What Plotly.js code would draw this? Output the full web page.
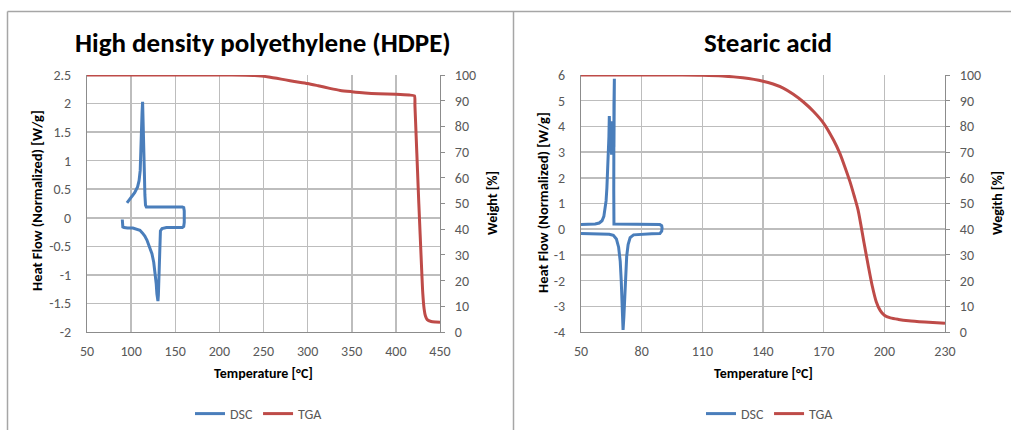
<!DOCTYPE html>
<html>
<head>
<meta charset="utf-8">
<script src="https://cdn.plot.ly/plotly-3.0.1.min.js"></script>
<style>
html,body{margin:0;padding:0;background:#fff;}
#chart{width:1011px;height:430px;}
</style>
</head>
<body>
<div id="chart"></div>
<script>
// ---------- HDPE data ----------
const hdpeDscT = [90, 90.1, 90.6, 92, 96, 102, 106.6, 110, 113, 115.5, 117.9, 120.8, 123.6, 125.6, 127.3, 128.4, 129.2, 129.9, 130.4, 130.9, 131.5, 131.9, 132.3, 133.2, 135, 140, 150, 158, 159.6, 160.2, 160.2, 159.6, 158, 150, 140, 130, 120, 117.2, 116.3, 115.6, 115.0, 114.4, 113.7, 113.0, 112.4, 111.9, 111.1, 110.3, 109.0, 107.3, 104.0, 101.0, 98.0, 95.3];
const hdpeDscQ = [-0.03, -0.12, -0.16, -0.17, -0.18, -0.18, -0.2, -0.22, -0.27, -0.32, -0.39, -0.5, -0.63, -0.78, -0.98, -1.15, -1.33, -1.42, -1.46, -1.35, -1.06, -0.7, -0.35, -0.23, -0.19, -0.17, -0.17, -0.17, -0.15, -0.08, 0.12, 0.18, 0.19, 0.19, 0.19, 0.19, 0.19, 0.19, 0.22, 0.4, 0.8, 1.3, 1.8, 2.03, 1.85, 1.59, 1.15, 0.83, 0.65, 0.54, 0.44, 0.37, 0.3, 0.26];
const hdpeTgaT = [50, 100, 150, 200, 230, 240, 248, 256, 265, 275, 285, 300, 312, 325, 337, 350, 365, 380, 400, 415, 421, 421.6, 423, 424.5, 426, 427.5, 429, 430.5, 432, 433.5, 435.5, 440, 445, 450];
const hdpeTgaW = [100, 100, 100, 100, 99.95, 99.85, 99.6, 99.2, 98.7, 98.1, 97.5, 96.7, 95.8, 94.8, 94.0, 93.5, 93.0, 92.7, 92.5, 92.2, 91.9, 88, 76, 63, 50, 38, 26, 15, 9, 6.2, 4.8, 4.1, 3.9, 3.8];

// ---------- Stearic acid data ----------
const saDscT = [50, 55, 60, 64, 66, 67.5, 68.6, 69.4, 69.9, 70.2, 70.5, 70.8, 71.2, 71.6, 72.0, 72.6, 73.3, 74.3, 76, 80, 85, 89, 89.9, 90.1, 89.9, 89, 85, 80, 75, 70, 67, 66.3, 66.2, 66.1, 66.3, 66.5, 66.3, 66.0, 65.7, 65.4, 65.1, 64.8, 64.5, 64.2, 64.0, 63.8, 63.5, 63.2, 62.8, 62.4, 61.9, 61.3, 60.4, 59, 57, 54, 50];
const saDscQ = [-0.17, -0.18, -0.19, -0.2, -0.24, -0.38, -0.7, -1.25, -2.0, -2.8, -3.5, -3.92, -3.4, -2.6, -1.8, -1.05, -0.6, -0.33, -0.22, -0.19, -0.18, -0.17, -0.08, 0.05, 0.14, 0.18, 0.18, 0.18, 0.18, 0.18, 0.18, 0.2, 1.5, 3.2, 4.8, 5.85, 3.2, 4.1, 3.1, 3.9, 2.9, 4.2, 3.0, 4.1, 4.4, 3.6, 2.8, 2.3, 1.6, 1.1, 0.75, 0.5, 0.33, 0.24, 0.2, 0.18, 0.18];
const saTgaT = [50, 80, 100, 110, 120, 130, 140, 145, 150, 155, 160, 165, 170, 175, 178, 180, 183, 185, 187, 190, 192, 194, 196, 198, 200, 203, 207, 212, 220, 230];
const saTgaW = [100, 100, 100, 99.9, 99.6, 98.9, 97.6, 96.5, 94.9, 92.5, 89.5, 85.8, 81.2, 74.5, 69.5, 65.3, 58.5, 53.2, 47.5, 34.5, 26.0, 18.0, 11.8, 8.3, 6.5, 5.5, 4.9, 4.4, 3.9, 3.4];

// ---------- tick labels ----------
const hdpeXTicks = [50, 100, 150, 200, 250, 300, 350, 400, 450];
const hdpeYTicks = [-2, -1.5, -1, -0.5, 0, 0.5, 1, 1.5, 2, 2.5];
const hdpeYLabels = ["-2", "-1.5", "-1", "-0.5", "0", "0.5", "1", "1.5", "2", "2.5"];
const saXTicks = [50, 80, 110, 140, 170, 200, 230];
const saYTicks = [-4, -3, -2, -1, 0, 1, 2, 3, 4, 5, 6];
const saYLabels = ["-4", "-3", "-2", "-1", "0", "1", "2", "3", "4", "5", "6"];
const weightTicks = [0, 10, 20, 30, 40, 50, 60, 70, 80, 90, 100];
const weightLabels = ["0", "10", "20", "30", "40", "50", "60", "70", "80", "90", "100"];

const titles = ["High density polyethylene (HDPE)", "Stearic acid"];
const xTitle = "Temperature [°C]";
const yTitle = "Heat Flow (Normalized) [W/g]";
const y2Titles = ["Weight [%]", "Wegith [%]"];

// ---------- styling ----------
const FONT = "Carlito, 'Liberation Sans Narrow', 'Liberation Sans', Arial, sans-serif";
const BLUE = "#4a7ebb";
const RED = "#be4b48";
const GRID = "#bdbdbd";
const AXIS = "#8c8c8c";
const TICKC = "#595959";
const W = 1011, H = 430;
const px = v => v / W;
const py = v => (H - v) / H;

const yDom = [py(332), py(75)];

const traces = [
  {x: hdpeDscT, y: hdpeDscQ, name: "DSC", type: "scatter", mode: "lines",
   line: {color: BLUE, width: 3}, xaxis: "x", yaxis: "y", legend: "legend"},
  {x: hdpeTgaT, y: hdpeTgaW, name: "TGA", type: "scatter", mode: "lines",
   line: {color: RED, width: 3, shape: "spline", smoothing: 0.6}, xaxis: "x", yaxis: "y2", legend: "legend"},
  {x: saDscT, y: saDscQ, name: "DSC", type: "scatter", mode: "lines",
   line: {color: BLUE, width: 3}, xaxis: "x2", yaxis: "y3", legend: "legend2"},
  {x: saTgaT, y: saTgaW, name: "TGA", type: "scatter", mode: "lines",
   line: {color: RED, width: 3, shape: "spline", smoothing: 0.8}, xaxis: "x2", yaxis: "y4", legend: "legend2"}
];

const tickFont = {family: FONT, size: 14, color: TICKC};

function xAx(dom, range, ticks, anchor) {
  return {domain: dom, range: range, tickvals: ticks, ticktext: ticks.map(String), anchor: anchor,
    showgrid: true, gridcolor: GRID, gridwidth: 1.5, showline: true, linecolor: AXIS, linewidth: 1,
    zeroline: false, ticks: "", ticklabelstandoff: 6, tickfont: tickFont, fixedrange: true};
}
function yAx(range, ticks, labels, anchor) {
  return {domain: yDom, range: range, tickvals: ticks, ticktext: labels, anchor: anchor,
    showgrid: true, gridcolor: GRID, gridwidth: 1.5, showline: true, linecolor: AXIS, linewidth: 1,
    zeroline: false, ticks: "", ticklabelstandoff: 12, tickfont: tickFont, fixedrange: true};
}
function y2Ax(overlay, anchor) {
  return {overlaying: overlay, side: "right", anchor: anchor, range: [0, 100],
    tickvals: weightTicks, ticktext: weightLabels, showgrid: false, showline: true,
    linecolor: AXIS, linewidth: 1, zeroline: false, ticks: "outside", ticklen: 4,
    tickcolor: AXIS, ticklabelstandoff: 7, tickfont: tickFont, fixedrange: true};
}

const legendBase = {orientation: "h", xanchor: "center", yanchor: "middle", y: py(414),
  bgcolor: "rgba(0,0,0,0)", font: {family: FONT, size: 14, color: TICKC}, itemwidth: 30,
  traceorder: "normal"};

const ann = [];
function addText(text, x, y, size, angle, color) {
  ann.push({text: text, x: px(x), y: py(y), xref: "paper", yref: "paper",
    xanchor: "center", yanchor: "middle", showarrow: false, textangle: angle,
    font: {family: FONT, size: size, color: color}});
}
addText("<b>" + titles[0] + "</b>", 262.5, 42, 27, 0, "#000");
addText("<b>" + titles[1] + "</b>", 768, 42, 27, 0, "#000");
addText("<b>" + xTitle + "</b>", 263, 373, 14, 0, "#000");
addText("<b>" + xTitle + "</b>", 763, 373, 14, 0, "#000");
addText("<b>" + yTitle + "</b>", 37, 201, 14.5, -90, "#000");
addText("<b>" + y2Titles[0] + "</b>", 492, 203, 14, -90, "#000");
addText("<b>" + yTitle + "</b>", 543, 203, 14.5, -90, "#000");
addText("<b>" + y2Titles[1] + "</b>", 997, 203, 14, -90, "#000");

const borderC = "#a6a6a6";
const shapes = [
  {type: "line", xref: "paper", yref: "paper", x0: px(7.5), x1: 1, y0: py(11.5), y1: py(11.5), line: {color: borderC, width: 1.5}},
  {type: "line", xref: "paper", yref: "paper", x0: px(7.5), x1: px(7.5), y0: py(11.5), y1: 0, line: {color: borderC, width: 1.5}},
  {type: "line", xref: "paper", yref: "paper", x0: px(513.5), x1: px(513.5), y0: py(11.5), y1: 0, line: {color: borderC, width: 1.5}}
];

const layout = {
  width: W, height: H,
  margin: {l: 0, r: 0, t: 0, b: 0},
  paper_bgcolor: "#ffffff", plot_bgcolor: "rgba(0,0,0,0)",
  font: {family: FONT},
  hovermode: false,
  xaxis: xAx([px(87), px(440)], [50, 450], hdpeXTicks, "y"),
  yaxis: yAx([-2, 2.5], hdpeYTicks, hdpeYLabels, "x"),
  yaxis2: y2Ax("y", "x"),
  xaxis2: xAx([px(581), px(945)], [50, 230], saXTicks, "y3"),
  yaxis3: yAx([-4, 6], saYTicks, saYLabels, "x2"),
  yaxis4: y2Ax("y3", "x2"),
  showlegend: true,
  legend: Object.assign({}, legendBase, {x: px(259)}),
  legend2: Object.assign({}, legendBase, {x: px(770)}),
  annotations: ann,
  shapes: shapes
};

Plotly.newPlot("chart", traces, layout, {displayModeBar: false, staticPlot: true});
</script>
</body>
</html>
